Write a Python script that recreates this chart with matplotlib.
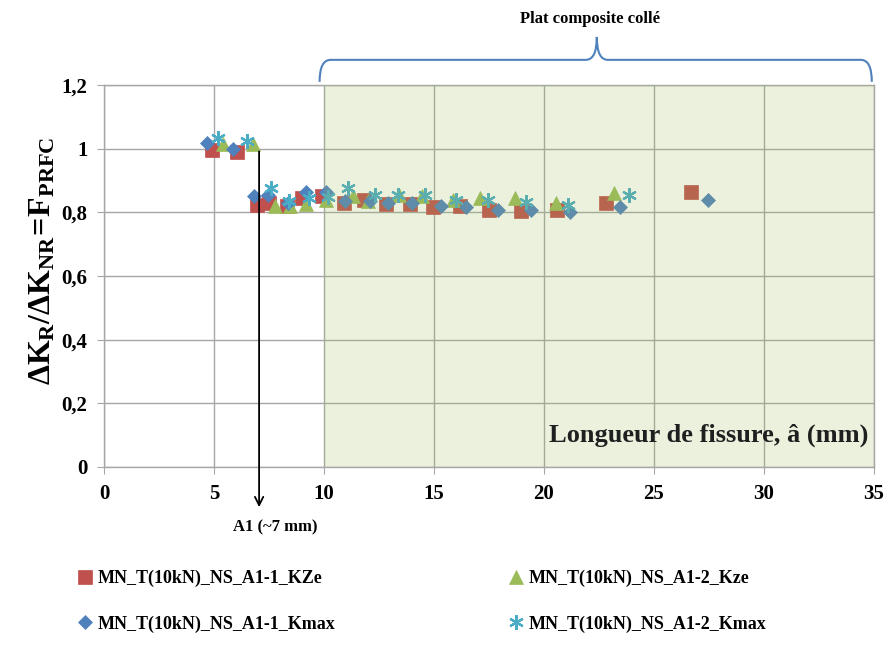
import matplotlib
matplotlib.use("Agg")
import matplotlib.pyplot as plt
from matplotlib.path import Path
from matplotlib.patches import PathPatch
from matplotlib.ticker import FuncFormatter

plt.rcParams["font.family"] = "Liberation Serif"
plt.rcParams["font.weight"] = "bold"
plt.rcParams["mathtext.fontset"] = "custom"
plt.rcParams["mathtext.rm"] = "Liberation Serif:bold"
plt.rcParams["mathtext.bf"] = "Liberation Serif:bold"
plt.rcParams["mathtext.it"] = "Liberation Serif:bold"

# crack length (mm) / F_PRFC values
x_kze1 = [4.9, 6.05, 6.95, 7.5, 8.3, 9.0, 9.9, 10.9, 11.8, 12.8, 13.9, 14.95, 16.2, 17.5, 18.95, 20.6, 22.8, 26.7]
y_kze1 = [0.995, 0.99, 0.823, 0.83, 0.82, 0.845, 0.85, 0.83, 0.84, 0.826, 0.826, 0.817, 0.82, 0.807, 0.805, 0.807, 0.83, 0.864]

x_kmax1 = [4.7, 5.85, 6.8, 7.45, 8.35, 9.2, 10.1, 10.95, 12.1, 12.9, 14.0, 15.3, 16.45, 17.9, 19.4, 21.2, 23.45, 27.45]
y_kmax1 = [1.017, 1.0, 0.85, 0.855, 0.83, 0.865, 0.865, 0.835, 0.835, 0.83, 0.83, 0.82, 0.817, 0.807, 0.807, 0.80, 0.817, 0.84]

x_kze2 = [5.4, 6.75, 7.75, 8.45, 9.2, 10.1, 11.3, 12.0, 13.4, 14.45, 15.85, 17.1, 18.7, 20.55, 23.2]
y_kze2 = [1.015, 1.015, 0.82, 0.82, 0.826, 0.84, 0.85, 0.835, 0.855, 0.85, 0.84, 0.845, 0.845, 0.83, 0.86]

x_kmax2 = [5.2, 6.5, 7.6, 8.4, 9.3, 10.2, 11.1, 12.3, 13.35, 14.6, 16.0, 17.45, 19.2, 21.1, 23.85]
y_kmax2 = [1.033, 1.025, 0.877, 0.836, 0.845, 0.848, 0.877, 0.855, 0.855, 0.855, 0.84, 0.84, 0.833, 0.823, 0.855]

xticks = [0, 5, 10, 15, 20, 25, 30, 35]
yticks = [0, 0.2, 0.4, 0.6, 0.8, 1.0, 1.2]

fig = plt.figure(figsize=(8.92, 6.66), dpi=100)
ax = fig.add_axes([104 / 892, 1 - 467 / 666, 770 / 892, 382 / 666])

h1, = ax.plot(x_kze1, y_kze1, ls="none", marker="s", ms=9.5, mfc="#C0504D", mec="#C0504D", mew=0.5,
              label="MN_T(10kN)_NS_A1-1_KZe", zorder=3)
h2, = ax.plot(x_kze2, y_kze2, ls="none", marker="^", ms=10.5, mfc="#9BBB59", mec="#9BBB59", mew=0.5,
              label="MN_T(10kN)_NS_A1-2_Kze", zorder=3)
h3, = ax.plot(x_kmax1, y_kmax1, ls="none", marker="D", ms=7.5, mfc="#4F81BD", mec="#4F81BD", mew=0.5,
              label="MN_T(10kN)_NS_A1-1_Kmax", zorder=3)
h4, = ax.plot(x_kmax2, y_kmax2, ls="none", marker=(6, 2, 0), ms=10.5, mec="#4BACC6", mew=1.6,
              label="MN_T(10kN)_NS_A1-2_Kmax", zorder=3)

# bonded composite zone (semi transparent like the original overlay)
ax.axvspan(10, 35, color="#9BBB59", alpha=0.2, lw=0, zorder=4)

ax.set_xlim(0, 35)
ax.set_ylim(0, 1.2)
ax.set_xticks(xticks)
ax.set_yticks(yticks)
fmt = FuncFormatter(lambda v, p: f"{v:g}".replace(".", ","))
ax.yaxis.set_major_formatter(fmt)
ax.xaxis.set_major_formatter(fmt)
ax.grid(True, color="#A6A6A6", lw=1.0, zorder=1)
ax.set_axisbelow(True)
for s in ax.spines.values():
    s.set_color("#A6A6A6")
    s.set_linewidth(1.0)
ax.tick_params(direction="out", length=5, color="#A6A6A6", labelsize=15, pad=7)

ax.set_ylabel(r"$\Delta K_R/\Delta K_{NR}\!{=}\!F_{PRFC}$", fontsize=23)
ax.yaxis.set_label_coords(-0.06, 0.54)

ax.text(34.75, 0.1, "Longueur de fissure, â (mm)", ha="right", va="center",
        fontsize=19, color="#1F1F1F", zorder=6)

# arrow at A1
ax.annotate("", xy=(7.05, -0.135), xytext=(7.05, 1.0),
            arrowprops=dict(arrowstyle="->,head_length=0.6,head_width=0.3", color="black", lw=1.3),
            annotation_clip=False, zorder=6)
ax.text(7.77, -0.19, "A1 (~7 mm)", ha="center", va="center", fontsize=12)

# curly brace over bonded zone
verts = [(9.8, 1.21), (9.8, 1.279), (10.3, 1.279),
         (21.9, 1.279),
         (22.4, 1.279), (22.4, 1.351),
         (22.4, 1.279), (22.9, 1.279),
         (34.4, 1.279),
         (34.9, 1.279), (34.9, 1.21)]
codes = [Path.MOVETO, Path.CURVE3, Path.CURVE3,
         Path.LINETO,
         Path.CURVE3, Path.CURVE3,
         Path.CURVE3, Path.CURVE3,
         Path.LINETO,
         Path.CURVE3, Path.CURVE3]
ax.add_patch(PathPatch(Path(verts, codes), fill=False, ec="#4F81BD", lw=1.5, clip_on=False))
fig.text(590 / 892, 1 - 19 / 666, "Plat composite collé", ha="center", va="center", fontsize=12)

fig.legend([h1, h3, h2, h4], [h.get_label() for h in (h1, h3, h2, h4)],
           loc="upper left", bbox_to_anchor=(78 / 892, 1 - 570 / 666), ncol=2,
           frameon=False, fontsize=13, handlelength=0.8, handletextpad=0.3,
           columnspacing=9.6, labelspacing=1.55, borderpad=0, borderaxespad=0)

fig.savefig("out.png", dpi=100)
